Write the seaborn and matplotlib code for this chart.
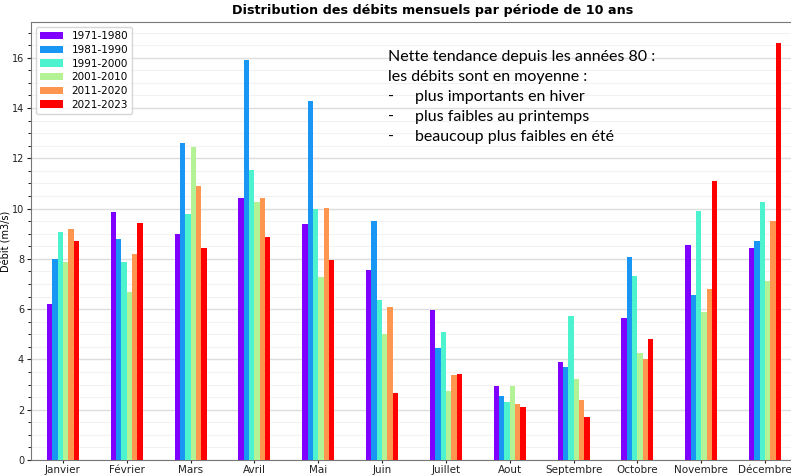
import numpy as np
import pandas as pd
import matplotlib
matplotlib.use("Agg")
import matplotlib.pyplot as plt
from matplotlib.ticker import MultipleLocator
import seaborn as sns

# Data (m3/s)
months = ["Janvier", "Février", "Mars", "Avril", "Mai", "Juin", "Juillet",
          "Aout", "Septembre", "Octobre", "Novembre", "Décembre"]
periods = ["1971-1980", "1981-1990", "1991-2000", "2001-2010", "2011-2020", "2021-2023"]

p1971 = [6.22, 9.87, 8.97, 10.43, 9.40, 7.54, 5.98, 2.96, 3.88, 5.64, 8.56, 8.44]
p1981 = [8.00, 8.80, 12.62, 15.90, 14.29, 9.52, 4.45, 2.54, 3.69, 8.09, 6.58, 8.72]
p1991 = [9.05, 7.86, 9.78, 11.52, 9.99, 6.35, 5.09, 2.30, 5.74, 7.33, 9.92, 10.25]
p2001 = [7.86, 6.67, 12.45, 10.27, 7.28, 5.00, 2.75, 2.94, 3.22, 4.26, 5.88, 7.10]
p2011 = [9.20, 8.18, 10.88, 10.41, 10.03, 6.10, 3.40, 2.22, 2.38, 4.00, 6.81, 9.49]
p2021 = [8.72, 9.42, 8.42, 8.85, 7.94, 2.66, 3.41, 2.10, 1.73, 4.83, 11.10, 16.59]

series = [p1971, p1981, p1991, p2001, p2011, p2021]
df = pd.DataFrame({"Mois": months * len(periods),
                   "Periode": np.repeat(periods, len(months)),
                   "Debit": np.concatenate(series)})

# rainbow colormap, same sampling as pandas colormap='rainbow'
colors = [plt.cm.rainbow(v) for v in np.linspace(0, 1, len(periods))]

fig = plt.figure(figsize=(7.91, 4.75), dpi=100)
ax = fig.add_axes([31 / 791, 15 / 475, 766 / 791, 438 / 475])

sns.barplot(data=df, x="Mois", y="Debit", hue="Periode", order=months,
            hue_order=periods, palette=colors, width=0.5, saturation=1,
            errorbar=None, ax=ax, zorder=3)

ax.set_ylim(0, 17.42)
ax.set_xlim(-0.5, 11.5)
ax.yaxis.set_major_locator(MultipleLocator(2))
ax.yaxis.set_minor_locator(MultipleLocator(0.5))
ax.grid(which="major", axis="y", color="#dddddd", linewidth=1, zorder=0)
ax.grid(which="minor", axis="y", color="#f2f2f2", linewidth=0.8, zorder=0)
ax.set_axisbelow(True)
for s in ax.spines.values():
    s.set_color("#777777")
ax.tick_params(axis="both", labelsize=7.5, colors="#222222")
ax.tick_params(axis="x", length=2.5, pad=1)
ax.tick_params(axis="y", length=3, pad=2, labelsize=7)
ax.tick_params(which="minor", length=2)
ax.set_xlabel("")
ax.set_ylabel("Débit (m3/s)", fontsize=7)
ax.yaxis.set_label_coords(-19 / 766, 0.5)
ax.set_title("Distribution des débits mensuels par période de 10 ans",
             fontsize=9.2, fontweight="bold", pad=6, x=(433 - 31) / 766)

leg = ax.legend(loc="upper left", fontsize=7.5, title=None, frameon=True,
                handlelength=2.2, labelspacing=0.35)

# annotation block
font = ["Lato", "DejaVu Sans"]
fig.text(388 / 791, 1 - 57 / 475, "Nette tendance depuis les années 80 :",
         fontsize=11.5, family=font, va="center", ha="left")
fig.text(388 / 791, 1 - 77 / 475, "les débits sont en moyenne :",
         fontsize=11.5, family=font, va="center", ha="left")
items = ["plus importants en hiver", "plus faibles au printemps",
         "beaucoup plus faibles en été"]
for i, t in enumerate(items):
    y = 1 - (97 + 20 * i) / 475
    fig.text(388 / 791, y, "-", fontsize=11.5, family=font, va="center", ha="left")
    fig.text(415 / 791, y, t, fontsize=11.5, family=font, va="center", ha="left")

fig.savefig("out.png", dpi=100)
